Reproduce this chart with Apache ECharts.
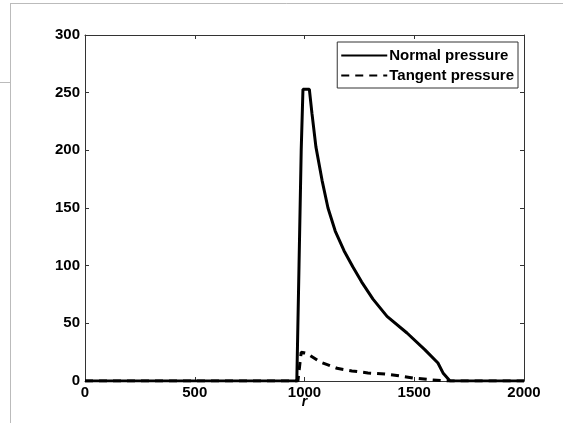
<!DOCTYPE html>
<html>
<head>
<meta charset="utf-8">
<script src="https://cdn.jsdelivr.net/npm/echarts@6/dist/echarts.min.js"></script>
<style>
  html, body { margin: 0; padding: 0; background: #fff; }
  #chart { width: 563px; height: 428px; }
</style>
</head>
<body>
<div id="chart"></div>
<script>
// values: [r, pressure]
const normalPressure = [
    [0, 0], [965, 0], [975, 100], [985, 200], [993, 253], [1022, 253],
    [1034, 232], [1052, 203], [1080, 174], [1107, 150], [1140, 130],
    [1180, 113], [1220, 99], [1260, 86], [1312, 71], [1376, 56],
    [1467, 41.6], [1549, 27], [1608, 15.6], [1631, 7], [1663, 0], [2000, 0]
];
const tangentPressure = [
    [0, 0], [970, 0], [985, 25], [1010, 24], [1071, 16.5], [1148, 11],
    [1216, 8.7], [1289, 7], [1367, 6], [1430, 4.5], [1494, 2.6],
    [1581, 1], [1650, 0], [2000, 0]
];
const seriesNames = ['Normal pressure', 'Tangent pressure'];
const xTicks = [0, 500, 1000, 1500, 2000];
const yTicks = [0, 50, 100, 150, 200, 250, 300];

let myChart = echarts.init(document.getElementById('chart'));

const axisColor = '#333';
const labelFont = {
    color: '#000',
    fontFamily: 'Liberation Sans, Arial, sans-serif',
    fontWeight: 'bold',
    fontSize: 15
};

// shared style for the box around the plot (MATLAB-like)
function boxAxis(extra) {
    return Object.assign({
        type: 'value',
        axisLine: {show: true, onZero: false, lineStyle: {color: axisColor, width: 1}},
        axisTick: {show: true, inside: true, length: 4, lineStyle: {color: axisColor}},
        splitLine: {show: false}
    }, extra);
}

let option = {
    animation: false,
    backgroundColor: '#fff',
    grid: {left: 85, right: 39, top: 35, bottom: 47},
    legend: {
        orient: 'vertical',
        right: 45,
        top: 42,
        data: seriesNames,
        itemWidth: 46,
        itemHeight: 12,
        itemGap: 5,
        padding: [6, 4, 5, 3],
        borderColor: '#333',
        borderWidth: 1,
        backgroundColor: '#fff',
        itemStyle: {opacity: 0},
        textStyle: {
            color: '#000',
            fontFamily: 'Liberation Sans, Arial, sans-serif',
            fontWeight: 'bold',
            fontSize: 15,
            padding: [0, 0, 0, -3]
        }
    },
    graphic: [
        // faint frame lines around the figure
        {type: 'line', shape: {x1: 10.5, y1: 3.5, x2: 563, y2: 3.5}, style: {stroke: '#bbb', lineWidth: 1}},
        {type: 'line', shape: {x1: 10.5, y1: 3, x2: 10.5, y2: 423}, style: {stroke: '#bbb', lineWidth: 1}},
        {type: 'line', shape: {x1: 0, y1: 82.5, x2: 10, y2: 82.5}, style: {stroke: '#bbb', lineWidth: 1}}
    ],
    xAxis: [
        boxAxis({
            min: 0, max: 2000, interval: 500,
            name: 'r',
            nameLocation: 'middle',
            nameGap: 14,
            nameMoveOverlap: false,
            nameTextStyle: {
                color: '#000', fontStyle: 'italic', fontWeight: 'bold',
                fontFamily: 'Liberation Sans, Arial, sans-serif', fontSize: 14
            },
            axisLabel: Object.assign({margin: 4, customValues: xTicks, formatter: v => String(v)}, labelFont)
        }),
        boxAxis({
            position: 'top', min: 0, max: 2000, interval: 500,
            axisLabel: {show: false}
        })
    ],
    yAxis: [
        boxAxis({
            min: 0, max: 300, interval: 50,
            axisLabel: Object.assign({margin: 5, customValues: yTicks, formatter: v => String(v)}, labelFont)
        }),
        boxAxis({
            position: 'right', min: 0, max: 300, interval: 50,
            axisLabel: {show: false}
        })
    ],
    series: [
        {
            name: seriesNames[0],
            type: 'line',
            data: normalPressure,
            symbol: 'none',
            lineStyle: {color: '#000', width: 3, type: 'solid'},
            itemStyle: {color: '#000'},
            z: 3
        },
        {
            name: seriesNames[1],
            type: 'line',
            data: tangentPressure,
            symbol: 'none',
            lineStyle: {color: '#000', width: 3, type: [8, 6]},
            itemStyle: {color: '#000'},
            z: 2
        }
    ]
};

myChart.setOption(option);
</script>
</body>
</html>
